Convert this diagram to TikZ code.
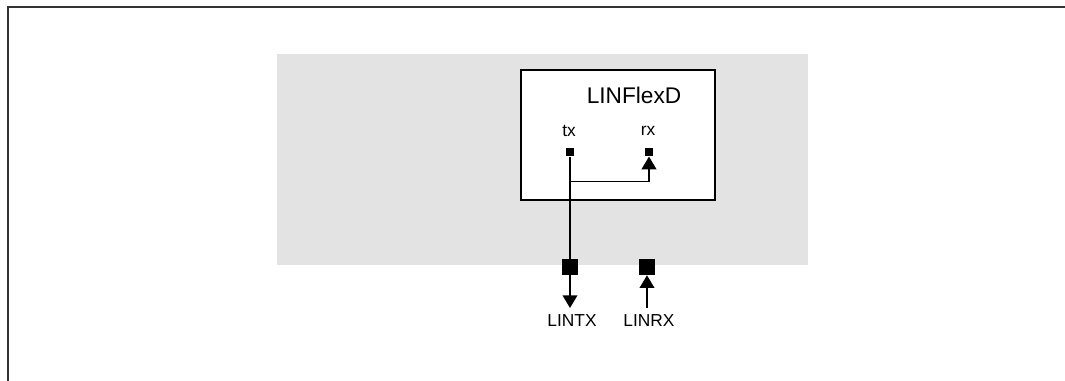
\documentclass[tikz,border=0pt]{standalone}
\usepackage{fontspec}
\setmainfont{Liberation Sans}
\usetikzlibrary{arrows.meta}
\tikzset{
  port/.style={fill=black, inner sep=0pt, minimum size=6.5pt},
  pad/.style={fill=black, inner sep=0pt, minimum size=12pt},
  pinlabel/.style={font=\fontsize{13}{15}\selectfont, inner sep=0pt},
  wire/.style={line width=1.1pt, -{Triangle[width=11pt,length=9.5pt]}}
}
\begin{document}
\begin{tikzpicture}[x=0.75pt, y=-0.75pt]
\useasboundingbox (0,0) rectangle (1065,381);
% page frame
\draw[line width=1.5pt, black!80] (8,381) -- (8,7) -- (1065,7);
% chip area
\fill[black!11] (277,54) rectangle (808,265.5);
\node[draw, line width=1.1pt, fill=white, minimum width=145.5pt, minimum height=97.5pt, inner sep=0pt] (linflex) at (618,135) {};
\node[font=\fontsize{17}{20}\selectfont] (title) at (634,95) {LINFlexD};
\node[pinlabel] (txlabel) at (569,131) {tx};
\node[pinlabel] (rxlabel) at (648,131) {rx};
\node[port] (txport) at (570,152) {};
\node[port] (rxport) at (649,152) {};
% pins
\node[pad] (txpad) at (570,267) {};
\node[pad] (rxpad) at (647,267) {};
\coordinate (split) at (570,181.5);
\coordinate (txend) at (570,308);
\coordinate (rxstart) at (647,308);
\draw[line width=1.1pt] (txport) -- (txpad);
\draw[wire] (split) -| (rxport);
\draw[wire] (txpad) -- (txend);
\draw[wire] (rxstart) -- (rxpad);
\node[pinlabel] (lintx) at (572,321) {LINTX};
\node[pinlabel] (linrx) at (649,321) {LINRX};
\end{tikzpicture}
\end{document}
